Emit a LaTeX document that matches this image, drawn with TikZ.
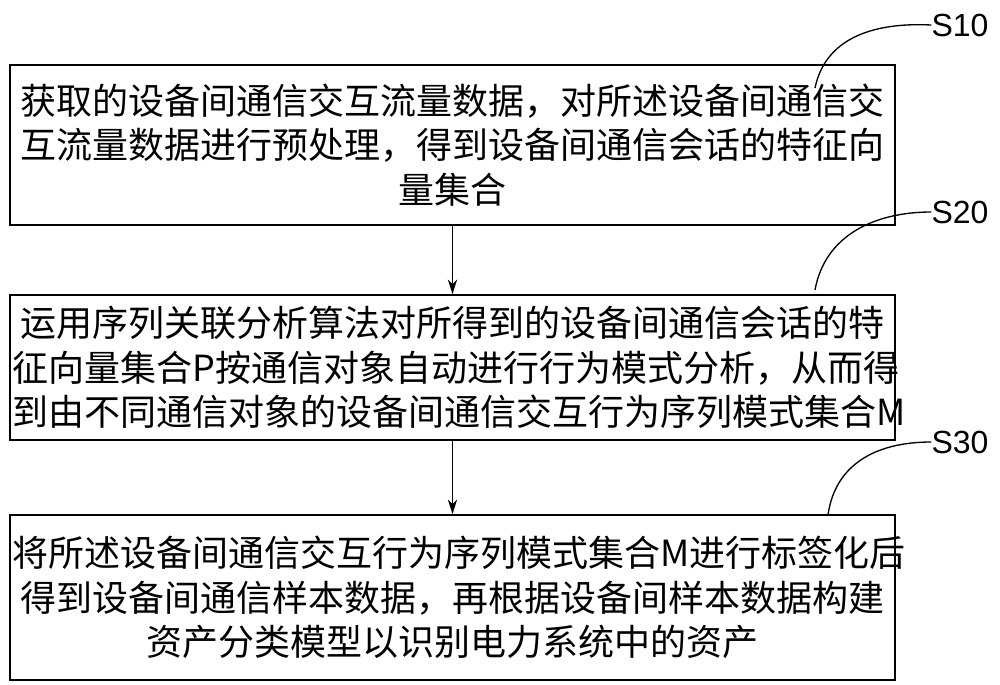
\documentclass[tikz,border=0pt]{standalone}
\usepackage{fontspec}
\newfontfamily\cjk{Noto Sans CJK SC}
\setmainfont{Liberation Sans}
\usetikzlibrary{arrows.meta}
\tikzset{
  stepbox/.style={draw,line width=1.3pt,minimum width=885*0.75pt,inner sep=0pt,
    text width=880*0.75pt,align=center,font=\cjk\fontsize{27pt}{33.5pt}\selectfont},
  steplabel/.style={font=\fontsize{24pt}{26pt}\selectfont,inner sep=0pt},
  flow/.style={-{Stealth[length=11pt,width=7pt]},line width=1.2pt},
}
\begin{document}
\begin{tikzpicture}[x=0.75pt,y=0.75pt,yscale=-1,xscale=1]
\useasboundingbox (0,0) rectangle (1000,685);

% Step boxes
\node [stepbox,minimum height=160*0.75pt] (s10) at (452.5,145) {获取的设备间通信交互流量数据，对所述设备间通信交\\互流量数据进行预处理，得到设备间通信会话的特征向\\量集合};
\node [stepbox,minimum height=145*0.75pt] (s20) at (452.5,367.5) {运用序列关联分析算法对所得到的设备间通信会话的特\\征向量集合P按通信对象自动进行行为模式分析，从而得\\到由不同通信对象的设备间通信交互行为序列模式集合M};
\node [stepbox,minimum height=165*0.75pt] (s30) at (452.5,597.5) {将所述设备间通信交互行为序列模式集合M进行标签化后\\得到设备间通信样本数据，再根据设备间样本数据构建\\资产分类模型以识别电力系统中的资产};

% Labels
\node [steplabel] (l10) at (960,25) {S10};
\node [steplabel] (l20) at (960,212) {S20};
\node [steplabel] (l30) at (960,442) {S30};

% Leader curves
\draw [line width=1pt] (l10.west) .. controls (870,22) and (825,40) .. (815,88);
\draw [line width=1pt] (l20.west) .. controls (875,212) and (825,235) .. (815,290);
\draw [line width=1pt] (l30.west) .. controls (875,442) and (835,465) .. (828,515);

% Arrows
\draw [flow] (s10.south) -- (s20.north);
\draw [flow] (s20.south) -- (s30.north);

\end{tikzpicture}
\end{document}
